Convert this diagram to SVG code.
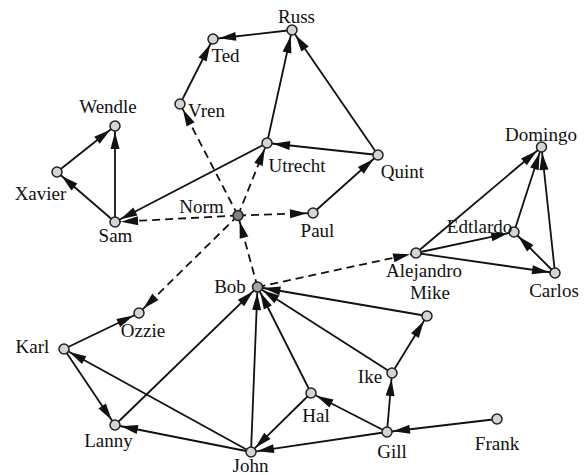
<svg xmlns="http://www.w3.org/2000/svg" width="588" height="475" viewBox="0 0 588 475">
<style>
.e{stroke:#111;stroke-width:1.8;fill:none;marker-end:url(#ah)}
.d{stroke-dasharray:8,5}
.n circle{fill:#d4d4d4;stroke:#222;stroke-width:1.5}
</style>
<defs>
<marker id="ah" markerUnits="userSpaceOnUse" markerWidth="18" markerHeight="10" refX="23" refY="4.5" orient="auto" overflow="visible">
<path d="M0,0 L17,4.5 L0,9 z" fill="#111"/>
</marker>
</defs>
<rect width="588" height="475" fill="#fff"/>
<g id="connectors">
<line class="e" x1="292" y1="30" x2="213" y2="39"/>
<line class="e" x1="180" y1="104" x2="213" y2="39"/>
<line class="e" x1="267" y1="143" x2="292" y2="30"/>
<line class="e" x1="378" y1="155" x2="292" y2="30"/>
<line class="e" x1="378" y1="155" x2="267" y2="143"/>
<line class="e" x1="313" y1="213" x2="378" y2="155"/>
<line class="e" x1="267" y1="143" x2="115" y2="222"/>
<line class="e" x1="115" y1="222" x2="57" y2="172"/>
<line class="e" x1="57" y1="172" x2="115" y2="126"/>
<line class="e" x1="115" y1="222" x2="115" y2="126"/>
<line class="e" x1="416" y1="253" x2="541.5" y2="147"/>
<line class="e" x1="416" y1="253" x2="514" y2="232"/>
<line class="e" x1="416" y1="253" x2="555" y2="273"/>
<line class="e" x1="514" y1="232" x2="541.5" y2="147"/>
<line class="e" x1="555" y1="273" x2="541.5" y2="147"/>
<line class="e" x1="555" y1="273" x2="514" y2="232"/>
<line class="e" x1="427" y1="316" x2="257.5" y2="287"/>
<line class="e" x1="392" y1="373" x2="257.5" y2="287"/>
<line class="e" x1="392" y1="373" x2="427" y2="316"/>
<line class="e" x1="387" y1="432" x2="392" y2="373"/>
<line class="e" x1="387" y1="432" x2="311" y2="393"/>
<line class="e" x1="497" y1="419" x2="387" y2="432"/>
<line class="e" x1="387" y1="432" x2="251" y2="452"/>
<line class="e" x1="311" y1="393" x2="257.5" y2="287"/>
<line class="e" x1="311" y1="393" x2="251" y2="452"/>
<line class="e" x1="251" y1="452" x2="257.5" y2="287"/>
<line class="e" x1="251" y1="452" x2="115" y2="425"/>
<line class="e" x1="251" y1="452" x2="64" y2="349"/>
<line class="e" x1="115" y1="425" x2="257.5" y2="287"/>
<line class="e" x1="64" y1="349" x2="115" y2="425"/>
<line class="e" x1="64" y1="349" x2="139" y2="313"/>
<line class="e d" x1="238" y1="215.5" x2="180" y2="104"/>
<line class="e d" x1="238" y1="215.5" x2="267" y2="143"/>
<line class="e d" x1="238" y1="215.5" x2="115" y2="222"/>
<line class="e d" x1="238" y1="215.5" x2="313" y2="213"/>
<line class="e d" x1="238" y1="215.5" x2="139" y2="313"/>
<line class="e d" x1="257.5" y1="287" x2="238" y2="215.5"/>
<line class="e d" x1="257.5" y1="287" x2="416" y2="253"/>
</g>
<g font-family="Liberation Serif, Times New Roman, serif" font-size="19" fill="#111" text-anchor="middle">
<g id="Russ" class="n"><circle cx="292" cy="30" r="5"/><text x="296.5" y="23">Russ</text></g>
<g id="Ted" class="n"><circle cx="213" cy="39" r="5"/><text x="225.5" y="62">Ted</text></g>
<g id="Vren" class="n"><circle cx="180" cy="104" r="5"/><text x="206.5" y="117">Vren</text></g>
<g id="Wendle" class="n"><circle cx="115" cy="126" r="5"/><text x="108" y="113">Wendle</text></g>
<g id="Xavier" class="n"><circle cx="57" cy="172" r="5"/><text x="40.5" y="200">Xavier</text></g>
<g id="Sam" class="n"><circle cx="115" cy="222" r="5"/><text x="115.5" y="242">Sam</text></g>
<g id="Utrecht" class="n"><circle cx="267" cy="143" r="5"/><text x="297" y="172">Utrecht</text></g>
<g id="Norm" class="n"><circle cx="238" cy="215.5" r="5" style="fill:#7f7f7f"/><text x="201.5" y="213">Norm</text></g>
<g id="Quint" class="n"><circle cx="378" cy="155" r="5"/><text x="402.5" y="178">Quint</text></g>
<g id="Paul" class="n"><circle cx="313" cy="213" r="5"/><text x="317.5" y="237">Paul</text></g>
<g id="Domingo" class="n"><circle cx="541.5" cy="147" r="5"/><text x="541" y="141">Domingo</text></g>
<g id="Edtlardo" class="n"><circle cx="514" cy="232" r="5"/><text x="479.5" y="233">Edtlardo</text></g>
<g id="Alejandro" class="n"><circle cx="416" cy="253" r="5"/><text x="424" y="277">Alejandro</text></g>
<g id="Carlos" class="n"><circle cx="555" cy="273" r="5"/><text x="554" y="297">Carlos</text></g>
<g id="Mike" class="n"><circle cx="427" cy="316" r="5"/><text x="430" y="298.5">Mike</text></g>
<g id="Ike" class="n"><circle cx="392" cy="373" r="5"/><text x="370" y="383">Ike</text></g>
<g id="Hal" class="n"><circle cx="311" cy="393" r="5"/><text x="316" y="422">Hal</text></g>
<g id="Gill" class="n"><circle cx="387" cy="432" r="5"/><text x="392" y="458">Gill</text></g>
<g id="Frank" class="n"><circle cx="497" cy="419" r="5"/><text x="497" y="450">Frank</text></g>
<g id="Bob" class="n"><circle cx="257.5" cy="287" r="5" style="fill:#a6a6a6"/><text x="230" y="293">Bob</text></g>
<g id="Ozzie" class="n"><circle cx="139" cy="313" r="5"/><text x="143" y="337">Ozzie</text></g>
<g id="Karl" class="n"><circle cx="64" cy="349" r="5"/><text x="32.5" y="353">Karl</text></g>
<g id="Lanny" class="n"><circle cx="115" cy="425" r="5"/><text x="108.5" y="447">Lanny</text></g>
<g id="John" class="n"><circle cx="251" cy="452" r="5"/><text x="250.5" y="472">John</text></g>
</g>
</svg>
